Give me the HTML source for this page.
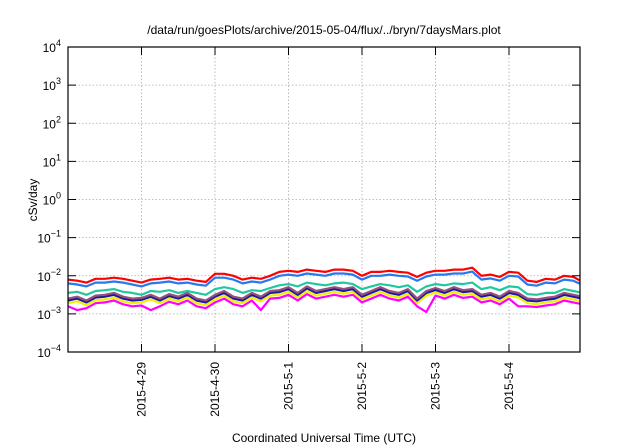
<!DOCTYPE html>
<html><head><meta charset="utf-8"><style>
body{margin:0;background:#fff}
svg{font-family:"Liberation Sans",sans-serif;display:block}
</style></head><body>
<svg id="chart" width="640" height="448" viewBox="0 0 640 448">
<rect width="640" height="448" fill="#fff"/>
<text x="324" y="34" font-size="12" text-anchor="middle">/data/run/goesPlots/archive/2015-05-04/flux/../bryn/7daysMars.plot</text>
<text x="324" y="442" font-size="12" text-anchor="middle">Coordinated Universal Time (UTC)</text>
<text transform="translate(37,200) rotate(-90)" font-size="12" text-anchor="middle">cSv/day</text>
<g id="grid"></g><g id="series"></g><g id="axes"></g>
</svg>
<script>
const yExponents=[4,3,2,1,0,-1,-2,-3,-4];
const xTickDays=[1,2,3,4,5,6];
const xTickLabels=["2015-4-29","2015-4-30","2015-5-1","2015-5-2","2015-5-3","2015-5-4"];
const sampleHours=3;
const logRed=[-2.10,-2.13,-2.18,-2.08,-2.08,-2.05,-2.08,-2.13,-2.18,-2.10,-2.08,-2.05,-2.10,-2.08,-2.13,-2.16,-1.95,-1.95,-2.00,-2.10,-2.05,-2.08,-2.00,-1.90,-1.87,-1.90,-1.84,-1.87,-1.90,-1.84,-1.84,-1.87,-2.00,-1.90,-1.90,-1.87,-1.90,-1.92,-2.03,-1.92,-1.87,-1.87,-1.84,-1.84,-1.79,-2.00,-1.97,-2.03,-1.90,-1.92,-2.13,-2.16,-2.08,-2.10,-2.00,-2.03,-2.16];
const logBlue=[-2.20,-2.23,-2.28,-2.18,-2.18,-2.15,-2.18,-2.23,-2.28,-2.20,-2.18,-2.15,-2.20,-2.18,-2.23,-2.26,-2.05,-2.05,-2.10,-2.20,-2.15,-2.18,-2.10,-2.00,-1.97,-2.00,-1.94,-1.97,-2.00,-1.94,-1.94,-1.97,-2.10,-2.00,-2.00,-1.97,-2.00,-2.02,-2.13,-2.02,-1.97,-1.97,-1.94,-1.94,-1.89,-2.10,-2.07,-2.13,-2.00,-2.02,-2.23,-2.26,-2.18,-2.20,-2.10,-2.13,-2.24];
const logGreen=[-2.45,-2.42,-2.50,-2.40,-2.38,-2.35,-2.42,-2.45,-2.50,-2.40,-2.42,-2.38,-2.45,-2.40,-2.45,-2.50,-2.35,-2.30,-2.35,-2.45,-2.38,-2.40,-2.32,-2.25,-2.22,-2.28,-2.18,-2.22,-2.25,-2.20,-2.18,-2.22,-2.35,-2.28,-2.22,-2.25,-2.30,-2.25,-2.42,-2.28,-2.22,-2.25,-2.20,-2.22,-2.18,-2.35,-2.30,-2.38,-2.28,-2.30,-2.48,-2.50,-2.45,-2.45,-2.35,-2.40,-2.45];
const logBrown=[-2.60,-2.55,-2.65,-2.52,-2.50,-2.45,-2.55,-2.60,-2.58,-2.50,-2.60,-2.48,-2.55,-2.45,-2.60,-2.65,-2.50,-2.40,-2.55,-2.60,-2.45,-2.55,-2.40,-2.38,-2.30,-2.45,-2.28,-2.40,-2.35,-2.30,-2.35,-2.30,-2.50,-2.40,-2.30,-2.40,-2.45,-2.35,-2.60,-2.40,-2.32,-2.40,-2.30,-2.38,-2.35,-2.50,-2.45,-2.55,-2.40,-2.45,-2.60,-2.62,-2.58,-2.55,-2.45,-2.50,-2.55];
const logNavy=[-2.65,-2.60,-2.70,-2.57,-2.55,-2.50,-2.60,-2.65,-2.63,-2.55,-2.65,-2.53,-2.60,-2.50,-2.65,-2.70,-2.55,-2.45,-2.60,-2.65,-2.50,-2.60,-2.45,-2.43,-2.35,-2.50,-2.33,-2.45,-2.40,-2.35,-2.40,-2.35,-2.55,-2.45,-2.35,-2.45,-2.50,-2.40,-2.65,-2.45,-2.37,-2.45,-2.35,-2.43,-2.40,-2.55,-2.50,-2.60,-2.45,-2.50,-2.65,-2.67,-2.63,-2.60,-2.50,-2.55,-2.60];
const logYellow=[-2.72,-2.67,-2.77,-2.64,-2.62,-2.57,-2.67,-2.72,-2.70,-2.62,-2.72,-2.60,-2.67,-2.57,-2.72,-2.77,-2.62,-2.52,-2.67,-2.72,-2.57,-2.67,-2.52,-2.50,-2.42,-2.57,-2.40,-2.52,-2.47,-2.42,-2.47,-2.42,-2.62,-2.52,-2.42,-2.52,-2.57,-2.47,-2.72,-2.52,-2.44,-2.52,-2.42,-2.50,-2.47,-2.62,-2.57,-2.67,-2.52,-2.57,-2.72,-2.74,-2.70,-2.67,-2.57,-2.62,-2.67];
const logMagenta=[-2.80,-2.90,-2.85,-2.72,-2.70,-2.65,-2.75,-2.80,-2.78,-2.90,-2.80,-2.68,-2.75,-2.65,-2.80,-2.85,-2.70,-2.60,-2.75,-2.80,-2.65,-2.90,-2.60,-2.58,-2.50,-2.65,-2.48,-2.60,-2.55,-2.50,-2.55,-2.50,-2.70,-2.60,-2.50,-2.60,-2.65,-2.55,-2.80,-2.95,-2.52,-2.60,-2.50,-2.58,-2.55,-2.70,-2.65,-2.75,-2.60,-2.80,-2.80,-2.82,-2.78,-2.75,-2.65,-2.70,-2.75];

const NS="http://www.w3.org/2000/svg";
const L=68,R=580,T=47,B=352,dayPx=73.5;
function xDay(d){return L+d*dayPx;}
function yLog(e){return T+(4-e)*(B-T)/8;}
function mk(tag,attrs,parent){const e=document.createElementNS(NS,tag);for(const k in attrs)e.setAttribute(k,attrs[k]);parent.appendChild(e);return e;}
const grid=document.getElementById('grid'),axes=document.getElementById('axes'),ser=document.getElementById('series');
const defs=mk('defs',{},document.getElementById('chart'));
const cp=mk('clipPath',{id:'pc'},defs);mk('rect',{x:L,y:T,width:R-L,height:B-T},cp);
yExponents.forEach(e=>{
  const y=yLog(e);
  if(e<4&&e>-4){const g=mk('line',{x1:L,x2:R,y1:y,y2:y,stroke:'#aaa','stroke-width':0.8,'stroke-dasharray':'1.5,2'},grid);
  
  }
  mk('line',{x1:L,x2:L+8,y1:y,y2:y,stroke:'#000'},axes);
  mk('line',{x1:R,x2:R-8,y1:y,y2:y,stroke:'#000'},axes);
  const t=mk('text',{x:61,y:y+5,'font-size':12,'text-anchor':'end'},axes);
  
  
  t.textContent='10';
  const s=mk('tspan',{dy:-6,'font-size':9},t);s.textContent=String(e).replace('-','\u2212');
});
xTickDays.forEach((d,i)=>{
  const x=xDay(d);
  const g=mk('line',{x1:x,x2:x,y1:T,y2:B,stroke:'#aaa','stroke-width':0.8,'stroke-dasharray':'1.5,2'},grid);
  
  
  mk('line',{x1:x,x2:x,y1:B,y2:B-8,stroke:'#000'},axes);
  mk('line',{x1:x,x2:x,y1:T,y2:T+8,stroke:'#000'},axes);
  const t=mk('text',{transform:`translate(${x+4},362) rotate(-90)`,'font-size':12,'text-anchor':'end'},axes);
  
  
  t.textContent=xTickLabels[i];
});
const fr=mk('rect',{x:L,y:T,width:R-L,height:B-T,fill:'none',stroke:'#000','stroke-width':1.2},axes);


const seriesList=[[logMagenta,'#ff00ff','series-magenta'],[logYellow,'#f0f000','series-yellow'],[logNavy,'#1818a8','series-navy'],[logBrown,'#96507a','series-brown'],[logGreen,'#20c8a0','series-green'],[logBlue,'#2878f0','series-blue'],[logRed,'#ff0000','series-red']];
seriesList.forEach(([arr,col,name])=>{
  const pts=arr.map((v,i)=>xDay(i*sampleHours/24).toFixed(1)+','+yLog(v).toFixed(1)).join(' ');
  const p=mk('polyline',{points:pts,fill:'none',stroke:col,'stroke-width':2.2,'stroke-linejoin':'round','clip-path':'url(#pc)'},ser);
  
  
});
</script>
</body></html>
